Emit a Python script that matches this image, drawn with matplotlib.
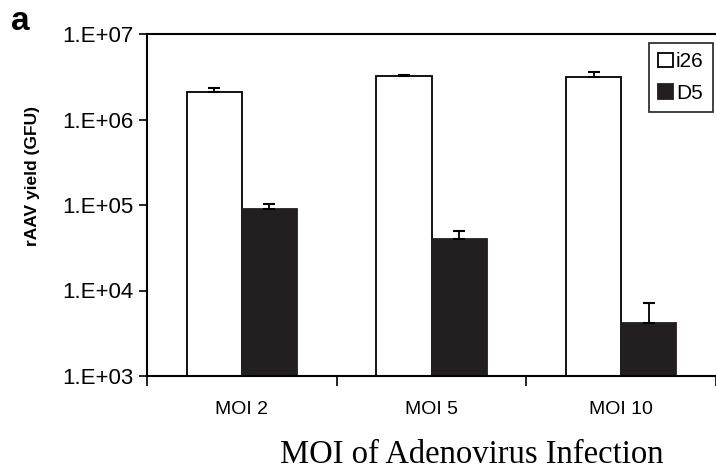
import numpy as np
import matplotlib.pyplot as plt
from matplotlib.ticker import FixedLocator, NullLocator

categories = ["MOI 2", "MOI 5", "MOI 10"]
i26_yield = [2.1e6, 3.2e6, 3.15e6]
i26_err = [0.25e6, 0.1e6, 0.45e6]
d5_yield = [8.9e4, 4.0e4, 4.2e3]
d5_err = [1.3e4, 0.9e4, 2.9e3]
y_ticks = [1e3, 1e4, 1e5, 1e6, 1e7]
y_labels = ["1.E+03", "1.E+04", "1.E+05", "1.E+06", "1.E+07"]

plt.rcParams['font.family'] = ['Liberation Sans', 'DejaVu Sans']

fig = plt.figure(figsize=(7.16, 4.70), dpi=100)
ax = fig.add_axes([147 / 716, 1 - 376 / 470, 1 - 147 / 716, (376 - 34) / 470])

x = np.arange(len(categories))
w = 0.29
ekw = dict(elinewidth=1.3, capthick=1.5, ecolor='black')
ax.bar(x - w / 2, i26_yield, w, color='white', edgecolor='black', linewidth=1.3,
       yerr=[np.zeros(3), i26_err], capsize=4, error_kw=ekw, label='i26')
ax.bar(x + w / 2, d5_yield, w, color='#231f20', edgecolor='#231f20', linewidth=1.3,
       yerr=[np.zeros(3), d5_err], capsize=4, error_kw=ekw, label='D5')

ax.set_yscale('log')
ax.set_ylim(1e3, 1e7)
ax.yaxis.set_major_locator(FixedLocator(y_ticks))
ax.yaxis.set_minor_locator(NullLocator())
ax.set_yticklabels(y_labels, fontsize=16)

ax.set_xlim(-0.5, (716 - 147) / 191 - 0.5)
ax.set_xticks([-0.5, 0.5, 1.5, 2.5])
ax.set_xticklabels([])
ax.set_xticks(x, minor=True)
ax.set_xticklabels(categories, minor=True, fontsize=14)
ax.tick_params(axis='x', which='minor', length=0, pad=18)
ax.tick_params(axis='x', which='major', length=7, width=1.2, direction='out')
ax.tick_params(axis='y', length=6, width=1.2, direction='out', pad=4)

for side in ['left', 'bottom', 'top']:
    ax.spines[side].set_linewidth(1.5)
ax.spines['right'].set_visible(False)

ax.set_ylabel("rAAV yield (GFU)", fontsize=12.5, fontweight='bold')
ax.yaxis.set_label_coords(-(147 - 40) / 569, (376 - 176) / 342)

fig.text(472 / 716, 1 - 455 / 470, "MOI of Adenovirus Infection",
         family=['Liberation Serif', 'DejaVu Serif'], fontsize=23.5,
         ha='center', va='center')
fig.text(11 / 716, 1 - 21 / 470, "a", fontsize=24, fontweight='bold',
         ha='left', va='center')

leg = ax.legend(loc='upper right', bbox_to_anchor=(1 - 3 / 569, 1 - 9 / 342),
                fontsize=15, frameon=True, fancybox=False, borderpad=0.45,
                handlelength=0.7, handleheight=0.7, handletextpad=0.15,
                labelspacing=0.6, borderaxespad=0)
leg.get_frame().set_edgecolor('black')
leg.get_frame().set_linewidth(1.3)

fig.savefig("out.png", dpi=100)
